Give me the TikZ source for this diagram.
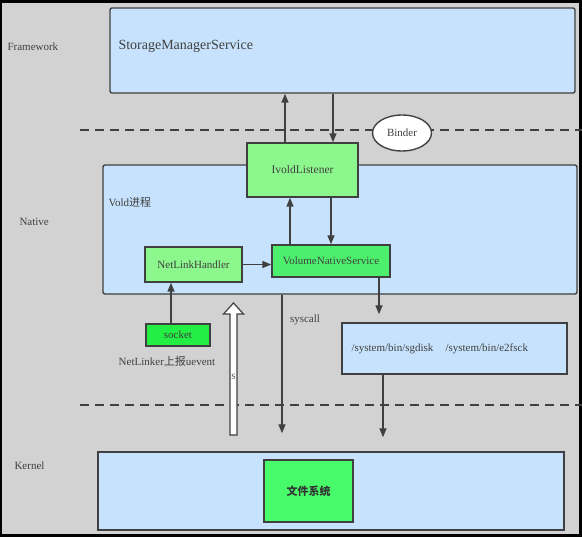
\documentclass[tikz,border=0pt]{standalone}
\usepackage{fontspec}
\setmainfont{Liberation Serif}
\newfontfamily\cjk{Noto Sans CJK SC}
\usetikzlibrary{arrows.meta, shapes.geometric}
\definecolor{bggray}{HTML}{D2D2D2}
\definecolor{boxblue}{HTML}{C6E2FC}
\definecolor{lightgrn}{HTML}{8CF78C}
\definecolor{midgrn}{HTML}{4CF06C}
\definecolor{brightgrn}{HTML}{22EE44}
\definecolor{fsgrn}{HTML}{48FB6A}
\definecolor{edgegray}{HTML}{404040}
\definecolor{txtgray}{HTML}{404040}

\begin{document}
\begin{tikzpicture} [x=1pt, y=-1pt, font=\fontsize{11}{13}\selectfont, text=txtgray,
  box/.style={draw=edgegray, line width=1.4pt, inner sep=0pt},
  wire/.style={draw=edgegray, line width=1.4pt, -{Triangle[length=9pt,width=7pt]}},
  layer/.style={draw=edgegray, line width=1.4pt, dash pattern=on 9pt off 6pt}]
\useasboundingbox (0,0) rectangle (582,537);
\fill[black] (0,0) rectangle (582,537);
\fill[bggray] (2,3) rectangle (579,534);

% layer borders
\draw[layer] (80,130) -- (582,130);
\draw[layer] (80,405) -- (582,405);

\path (342.5,50.5) node[box, fill=boxblue, rounded corners=2pt, minimum width=465pt, minimum height=85pt] (sms) {}
(340,229.5) node[box, fill=boxblue, rounded corners=2pt, minimum width=474pt, minimum height=129pt] (vold) {}
(302.5,170) node[box, fill=lightgrn, minimum width=111pt, minimum height=54pt, font=\fontsize{11.5}{13}\selectfont] (ivold) {IvoldListener}
(193.5,264.5) node[box, fill=lightgrn, minimum width=97pt, minimum height=35pt] (nlh) {NetLinkHandler}
(331,261) node[box, fill=midgrn, minimum width=118pt, minimum height=32pt] (vns) {VolumeNativeService}
(178,335) node[box, fill=brightgrn, minimum width=64pt, minimum height=22pt] (socket) {socket}
(454.5,348.5) node[box, fill=boxblue, minimum width=225pt, minimum height=51pt] (sysbin) {}
(331,491) node[box, fill=boxblue, minimum width=466pt, minimum height=78pt] (kernel) {}
(308.5,491) node[box, fill=fsgrn, minimum width=89pt, minimum height=62pt, font=\cjk\bfseries\fontsize{11}{13}\selectfont, text=black!80] (fs) {文件系统}
(402,133) node[ellipse, draw=edgegray, line width=1.4pt, fill=white, minimum width=59pt, minimum height=36pt, inner sep=0pt] (binder) {Binder}

(4,47) node[anchor=west] (fw) {Framework}
(16,222) node[anchor=west] (native) {Native}
(11,466) node[anchor=west] (kern) {Kernel}
(115,46) node[anchor=west, font=\fontsize{14}{16}\selectfont] (smstext) {StorageManagerService}
(105,202) node[anchor=west] (voldtext) {Vold{\cjk 进程}}
(348,349) node[anchor=west] (sysbintext) {/system/bin/sgdisk\hspace{1.1em}/system/bin/e2fsck}
(167,361) node (uevent) {NetLinker{\cjk 上报}uevent}
(305,320) node (syscall) {syscall};

\draw[wire] ([xshift=-17.5pt]ivold.north) -- ([xshift=-17.5pt]ivold.north |- sms.south);
\draw[wire] ([xshift=30.5pt]ivold.north |- sms.south) -- ([xshift=30.5pt]ivold.north);
\draw[wire] ([xshift=-41pt]vns.north) -- ([xshift=-41pt]vns.north |- ivold.south);
\draw[wire] ([xshift=28.5pt]ivold.south) -- ([xshift=28.5pt]ivold.south |- vns.north);
\draw[wire] (nlh.east) -- (nlh.east -| vns.west);
\draw[wire] ([xshift=-7pt]socket.north) -- ([xshift=-7pt]socket.north |- nlh.south);
\draw[wire, shorten >=8pt] ([xshift=48pt]vns.south) -- ([xshift=48pt]vns.south |- sysbin.north);
\draw[wire, shorten >=18pt] ([xshift=-58pt]vold.south) -- ([xshift=-58pt]vold.south |- kernel.north);
\draw[wire, shorten >=14pt] ([xshift=-71.5pt]sysbin.south) -- ([xshift=-71.5pt]sysbin.south |- kernel.north);

% hollow uevent arrow
\draw[edgegray, line width=1.2pt, fill=white, line join=miter] (230,435) -- (230,314) -- (223.5,314) -- (233.5,303)
  -- (243.5,314) -- (237,314) -- (237,435) -- cycle;
\path (233.5,377) node[font=\fontsize{8}{9}\selectfont] (s) {S};
\end{tikzpicture}
\end{document}
